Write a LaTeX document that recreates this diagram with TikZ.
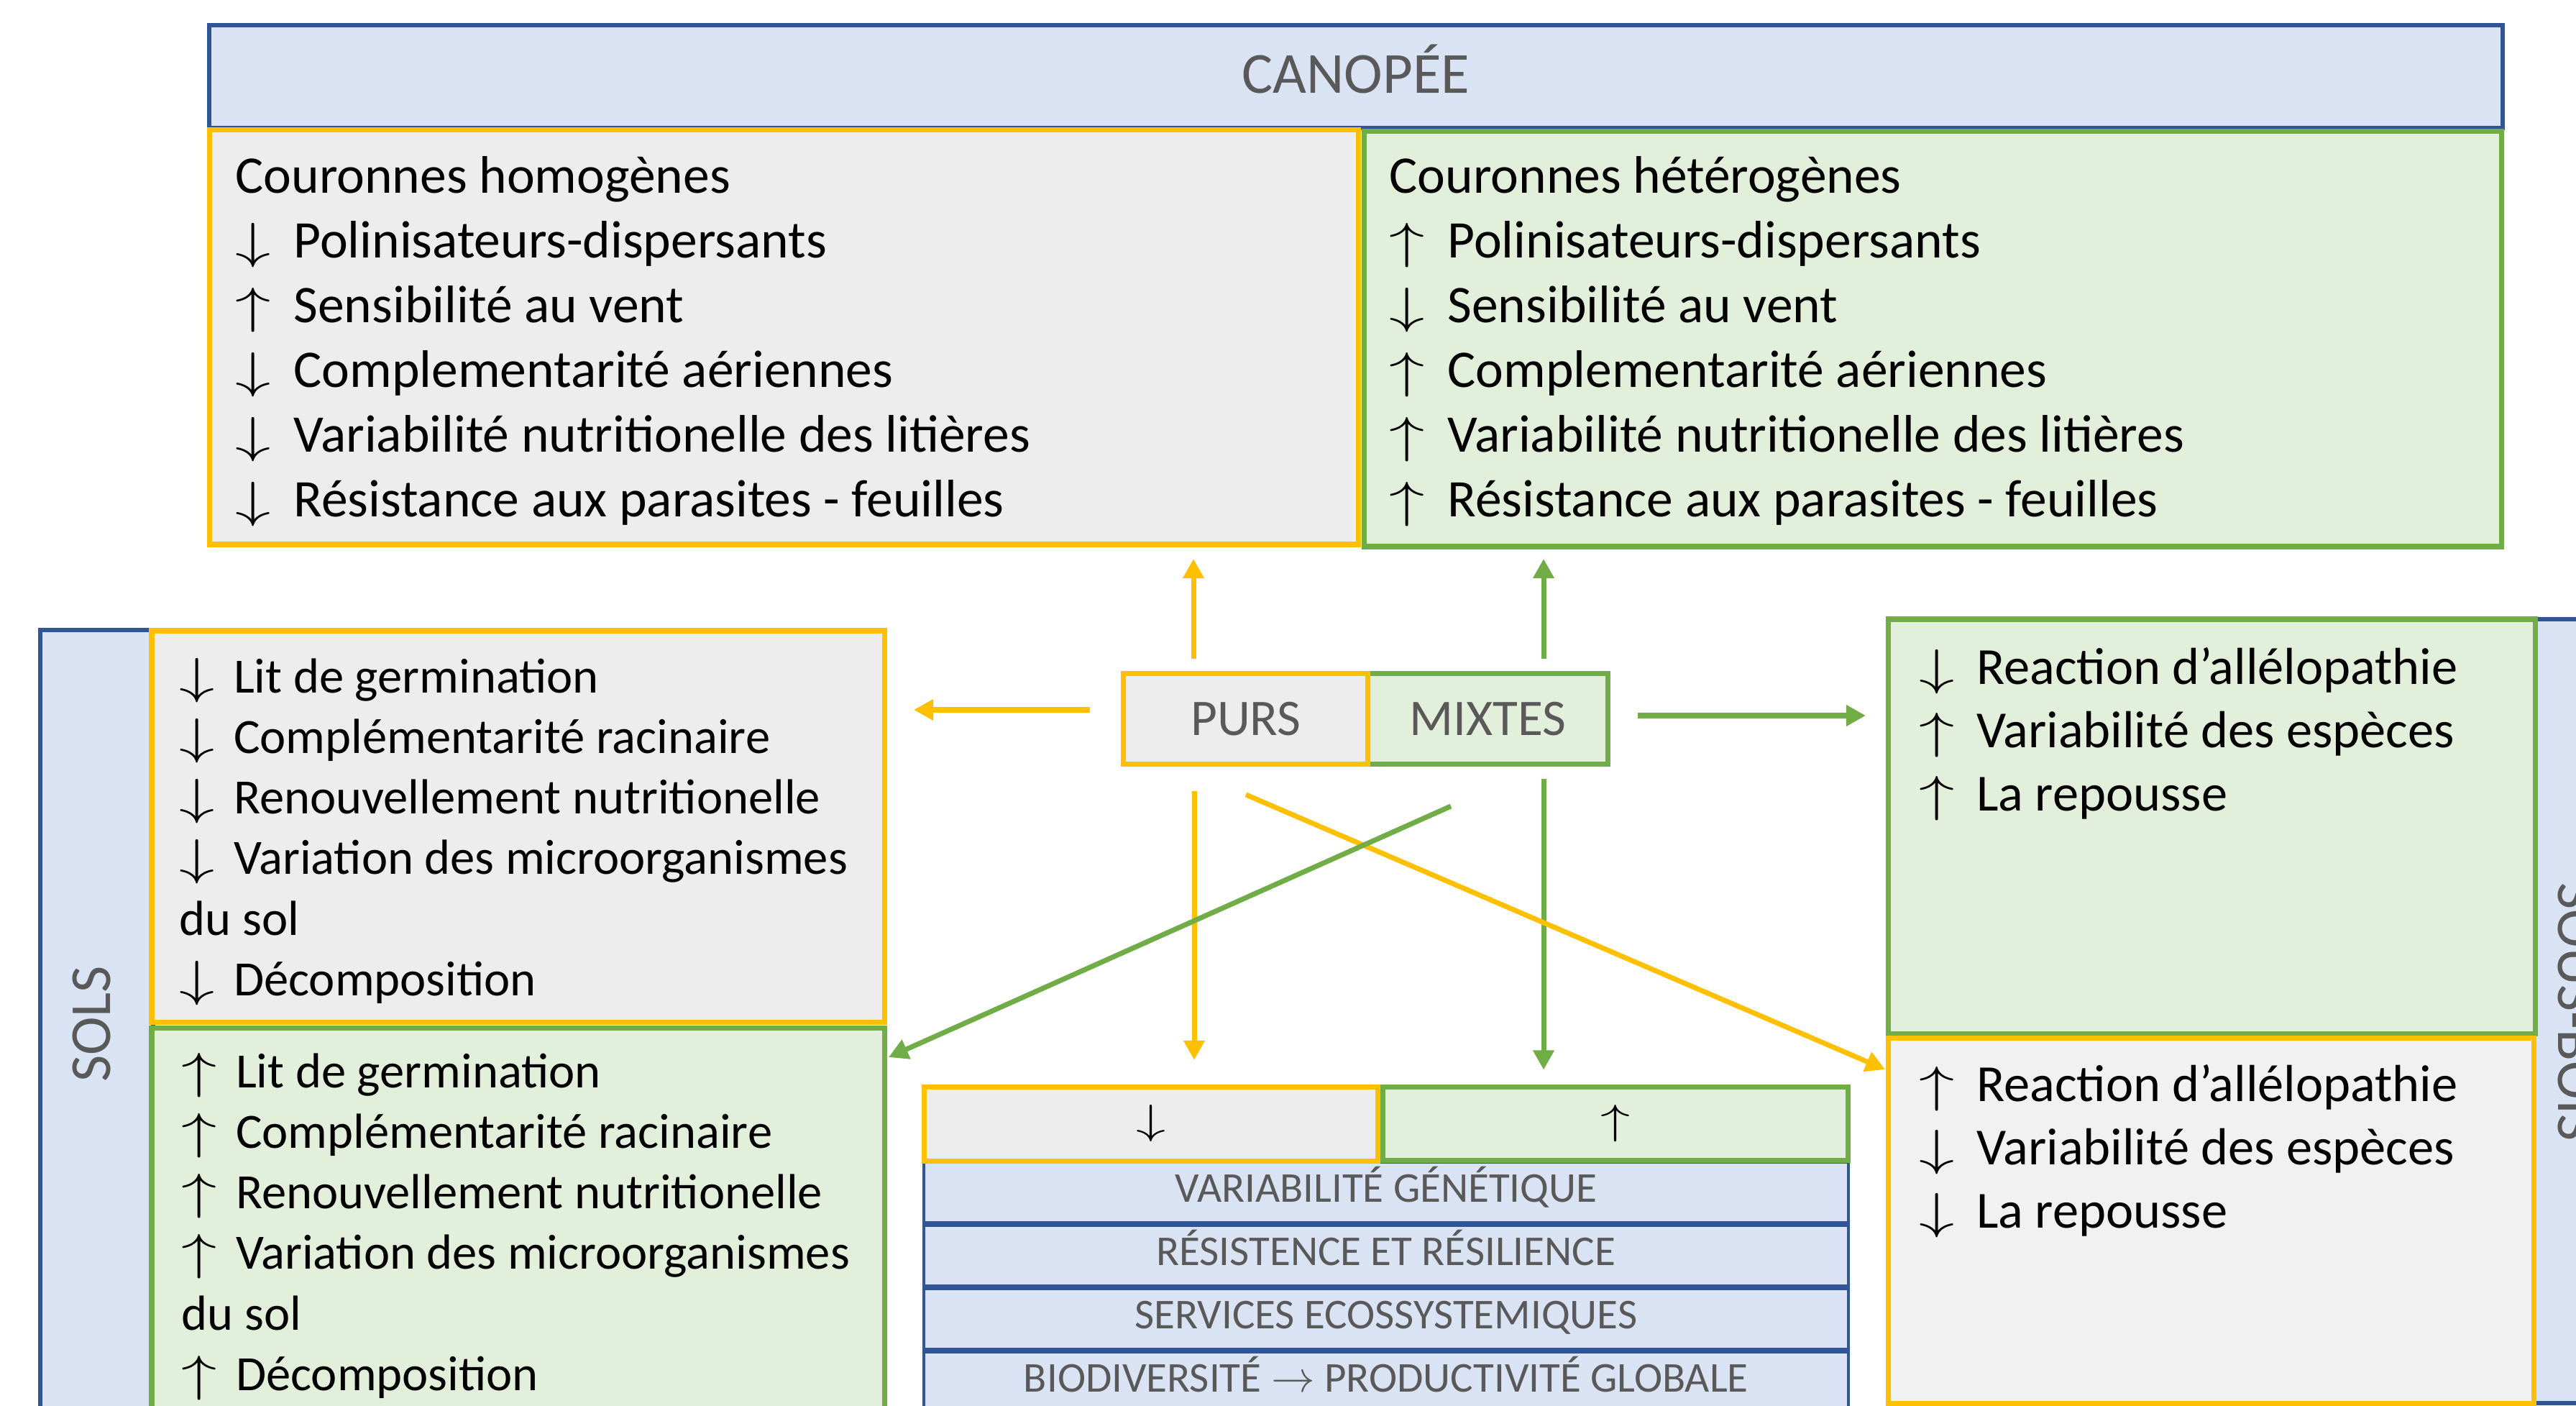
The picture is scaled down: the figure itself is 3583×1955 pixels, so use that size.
\documentclass[tikz,border=0pt]{standalone}
\usepackage{fontspec}
\setmainfont{Carlito}
\usepackage{graphicx}
\usetikzlibrary{
  	positioning,
  	arrows.meta,
  	calc,
  	fit
  }
\definecolor{bleu}{HTML}{2F5597}
\definecolor{bleuclair}{HTML}{DAE3F3}
\definecolor{jaune}{HTML}{FFC000}
\definecolor{grisclair}{HTML}{EDEDED}
\definecolor{grispale}{HTML}{F1F1F1}
\definecolor{vert}{HTML}{70AD47}
\definecolor{vertclair}{HTML}{E2EFDA}
\definecolor{grisfonce}{HTML}{595959}
\newcommand{\flbas}{\scalebox{1.35}[0.95]{$\downarrow$}}
\newcommand{\flhaut}{\scalebox{1.35}[0.95]{$\uparrow$}}
\newcommand{\fbas}{\makebox[1.1em][l]{\flbas}}
\newcommand{\fhaut}{\makebox[1.1em][l]{\flhaut}}

\begin{document}
\begin{tikzpicture}[x=.01cm, y=-.01cm,
  boite/.style={draw, inner sep=0pt, outer sep=0pt, line width=.07cm},
  pur/.style={boite, draw=jaune, fill=grisclair},
  mixte/.style={boite, draw=vert, fill=vertclair},
  bande/.style={boite, draw=bleu, fill=bleuclair, line width=.06cm},
  ligne/.style={bande, line width=.04cm, minimum width=12.85cm, minimum height=.84cm, text height=11pt, text depth=3.6pt,
    text=grisfonce, font=\fontsize{16.8}{20}\selectfont},
  liste/.style={inner sep=0pt, anchor=north west, align=left},
  titre/.style={inner sep=0pt, text=grisfonce, font=\fontsize{23}{28}\selectfont},
  fj/.style={draw=jaune, line width=.07cm, -{Triangle[length=.27cm, width=.28cm]}},
  fv/.style={fj, draw=vert}]
  \useasboundingbox (0,0) rectangle (3583,1955);
%
  \node[bande, fit={(291,35) (3481,178)}] (canopee) {};
  \node[titre, anchor=base] (tCan) at (1886,130) {CANOPÉE};
  \node[pur, fit={(291,181) (1889,757)}] (homog) {};
  \node[mixte, fit={(1897,183) (3479,760)}] (hetero) {};
  \node[liste, font=\fontsize{20.9}{25.6}\selectfont] (tHomog) at (327,217) {Couronnes homogènes\\
    \fbas Polinisateurs-dispersants\\ \fhaut Sensibilité au vent\\ \fbas Complementarité aériennes\\
    \fbas Variabilité nutritionelle des litières\\ \fbas Résistance aux parasites - feuilles};
  \node[liste, font=\fontsize{20.9}{25.6}\selectfont] (tHetero) at (1932,217) {Couronnes hétérogènes\\
    \fhaut Polinisateurs-dispersants\\ \fbas Sensibilité au vent\\ \fhaut Complementarité aériennes\\
    \fhaut Variabilité nutritionelle des litières\\ \fhaut Résistance aux parasites - feuilles};
%
  \node[bande, fit={(56,876) (213,2100)}] (sols) {};
  \node[titre, rotate=90] (tSols) at (128,1424) {SOLS};
  \node[pur, fit={(211,877) (1230,1421)}] (solsP) {};
  \node[mixte, fit={(211,1429) (1230,2100)}] (solsM) {};
  \node[liste, font=\fontsize{19.5}{23.9}\selectfont] (tSolsP) at (249,915) {\fbas Lit de germination\\
    \fbas Complémentarité racinaire\\ \fbas Renouvellement nutritionelle\\
    \fbas Variation des microorganismes\\ du sol\\ \fbas Décomposition};
  \node[liste, font=\fontsize{19.5}{23.9}\selectfont] (tSolsM) at (252,1464) {\fhaut Lit de germination\\
    \fhaut Complémentarité racinaire\\ \fhaut Renouvellement nutritionelle\\
    \fhaut Variation des microorganismes\\ du sol\\ \fhaut Décomposition};
%
  \node[bande, fit={(3524,861) (3700,1951)}] (sousbois) {};
  \node[titre, rotate=-90] (tSB) at (3584,1407) {SOUS-BOIS};
  \node[mixte, fit={(2626,861) (3526,1437)}] (sbM) {};
  \node[pur, fill=grispale, fit={(2626,1443) (3524,1951)}] (sbP) {};
  \node[liste, font=\fontsize{20.6}{25}\selectfont] (tSbM) at (2669,900) {\fbas Reaction d’allélopathie\\
    \fhaut Variabilité des espèces\\ \fhaut La repousse};
  \node[liste, font=\fontsize{20.6}{25}\selectfont] (tSbP) at (2669,1480) {\fhaut Reaction d’allélopathie\\
    \fbas Variabilité des espèces\\ \fbas La repousse};
%
  \node[mixte, minimum width=3.33cm, minimum height=1.25cm, text=grisfonce,
    font=\fontsize{20.3}{24}\selectfont] (mixtes) at (2069.5,999.5) {MIXTES};
  \node[pur, left=0pt of mixtes, minimum width=3.40cm, minimum height=1.25cm, text=grisfonce,
    font=\fontsize{20.3}{24}\selectfont] (purs) {PURS};
%
  \node[ligne, anchor=north west] (r1) at (1285,1616) {VARIABILITÉ GÉNÉTIQUE};
  \node[ligne, below=.04cm of r1] (r2) {RÉSISTENCE ET RÉSILIENCE};
  \node[ligne, below=.04cm of r2] (r3) {SERVICES ECOSSYSTEMIQUES};
  \node[ligne, below=.04cm of r3] (r4) {BIODIVERSITÉ $\rightarrow$ PRODUCTIVITÉ GLOBALE};
  \node[pur, anchor=north west, minimum width=6.31cm, minimum height=1.03cm,
    font=\fontsize{16}{19}\selectfont] (bas) at (1285,1511) {\flbas};
  \node[mixte, right=.07cm of bas, minimum width=6.47cm, minimum height=1.02cm,
    font=\fontsize{16}{19}\selectfont] (haut) {\flhaut};
%
  \coordinate (dP1) at (1660,916);
  \coordinate (dM1) at (2147,916);
  \coordinate (dP2) at (1516,987);
  \coordinate (dM2) at (2278,995);
  \coordinate (dP3) at (1661,1100);
  \coordinate (dM3) at (2147,1083);
  \coordinate (dP4) at (1733,1105);
  \coordinate (dM4) at (2018,1121);
  \draw[fj, shorten >=.2cm] (dP1) -- (dP1 |- homog.south);
  \draw[fv, shorten >=.17cm] (dM1) -- (dM1 |- hetero.south);
  \draw[fj, shorten >=.41cm] (dP2) -- (dP2 -| solsP.east);
  \draw[fv, shorten >=.31cm] (dM2) -- (dM2 -| sbM.west);
  \draw[fj, shorten >=.37cm] (dP3) -- (dP3 |- bas.north);
  \draw[fv, shorten >=.24cm] (dM3) -- (dM3 |- haut.north);
  \draw[fj] (dP4) -- ([shift={(-4,44)}]sbP.north west);
  \draw[fv] (dM4) -- ([shift={(6,41)}]solsM.north east);
\end{tikzpicture}
\end{document}
